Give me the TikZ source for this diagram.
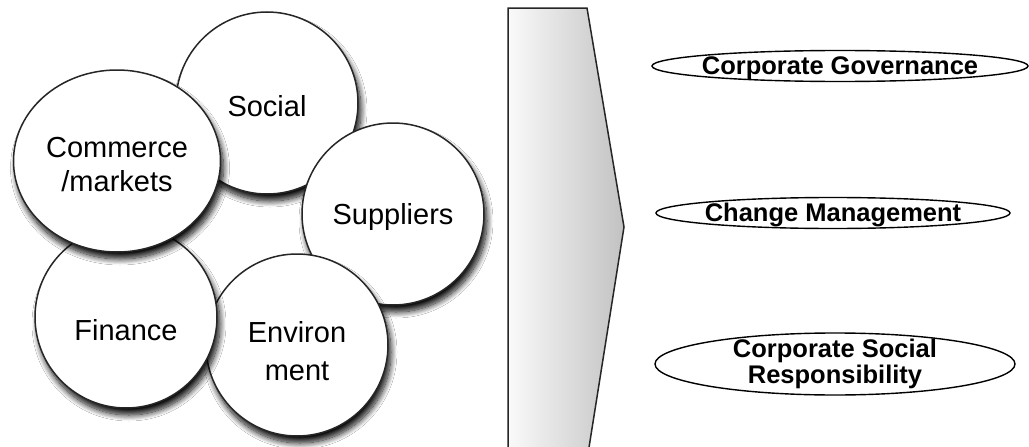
\documentclass[tikz,border=0pt]{standalone}
\usepackage{fontspec}
\setmainfont{Liberation Sans}
\usetikzlibrary{shapes.geometric,shadows.blur}

\begin{document}
\begin{tikzpicture}[x=1pt,y=-1pt,
  bubble/.style={circle, draw=black!85, line width=1.5pt, fill=white,
    minimum size=182pt, inner sep=0pt,
    blur shadow={shadow xshift=3pt, shadow yshift=-7pt,
      shadow blur radius=6pt, shadow blur steps=12, shadow opacity=95}},
  bubbletext/.style={align=center, font=\fontsize{29}{34}\selectfont},
  pill/.style={ellipse, draw=black, line width=1.4pt, fill=white, inner sep=0pt},
  pilltext/.style={align=center, font=\fontsize{25.5}{26}\selectfont\bfseries}
]
\useasboundingbox[fill=white] (0,0) rectangle (1029,447);

% the five themes, later ones overlapping earlier ones
\node[bubble, label={[bubbletext, name=socialtext, yshift=-3pt]center:Social}]
      (social) at (267,103) {};
\node[bubble, label={[bubbletext, name=supplierstext, yshift=-3pt]center:Suppliers}]
      (suppliers) at (393,214) {};
\node[bubble, label={[bubbletext, name=environtext, yshift=-6pt,
        font=\fontsize{29}{38}\selectfont]center:Environ\\ment}]
      (environ) at (297,345) {};
\node[bubble, label={[bubbletext, name=financetext, yshift=-13pt]center:Finance}]
      (finance) at (126,317) {};
\node[bubble, ellipse, minimum width=207pt, minimum height=182pt,
      label={[bubbletext, name=commercetext, yshift=-4pt]center:Commerce\\/markets}]
      (commerce) at (117,161) {};

% broad arrow pointing to the outcomes
\begin{scope}
  \clip (0,0) rectangle (1029,447);
  \draw[line width=1.5pt, draw=black!85, left color=gray!4, right color=gray!48]
    (508,8) -- (587,8) -- (624,227) -- (587,460) -- (508,460) -- cycle;
\end{scope}

% outcomes
\node[pill, minimum width=376pt, minimum height=31pt,
      label={[pilltext, name=cgtext, yshift=-2pt]center:Corporate Governance}]
      (cg) at (840,66) {};
\node[pill, minimum width=354pt, minimum height=31pt,
      label={[pilltext, name=cmtext, yshift=-2pt]center:Change Management}]
      (cm) at (833,213) {};
\node[pill, minimum width=360pt, minimum height=62pt,
      label={[pilltext, name=csrtext]center:Corporate Social\\Responsibility}]
      (csr) at (835,364) {};
\end{tikzpicture}
\end{document}
